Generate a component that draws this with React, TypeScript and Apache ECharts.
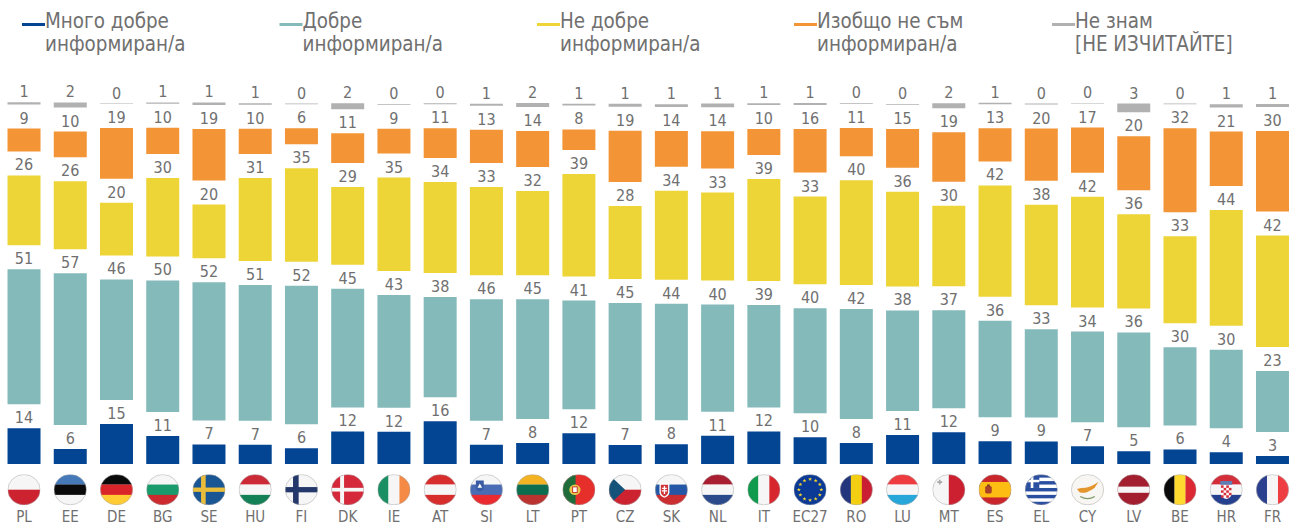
import React, { useEffect, useRef } from "react";
import * as echarts from "echarts";

const categories = ["PL","EE","DE","BG","SE","HU","FI","DK","IE","AT","SI","LT","PT","CZ","SK","NL","IT","EC27","RO","LU","MT","ES","EL","CY","LV","BE","HR","FR"];
const veryWell = [13.5,5.7,15.1,10.6,7.4,7.3,5.9,12.3,12.2,16.1,7.3,7.9,11.6,7.2,7.5,10.7,12.3,10.1,7.9,10.9,12,8.6,8.5,6.7,4.8,5.5,4.4,3];
const well = [50.9,57.2,45.5,49.6,52.1,51.2,52.3,44.8,42.5,37.9,45.8,45.2,41,44.5,43.9,40.4,38.6,39.6,41.5,38,37,36.4,33.3,34.2,35.8,29.5,29.7,23];
const notWell = [26.4,25.7,19.9,29.6,20.3,31.3,35.3,29.3,35.3,34.3,33.3,31.8,38.7,27.5,33.6,33.2,38.5,33.1,39.6,35.7,30.3,42,37.9,41.8,35.5,32.8,43.6,42.1];
const notAtAll = [8.6,9.7,19.1,9.9,19.4,9.5,6,11.2,9.3,11.2,12.6,13.6,7.8,19.4,13.5,14.1,9.8,16.4,10.6,14.6,18.7,12.5,19.7,17.1,20.4,31.7,20.6,30.4];
const dontKnow = [0.9,1.9,0.2,0.5,1,0.6,0.3,2.3,0.3,0.4,0.75,1.5,0.6,1.1,1,1.4,0.7,0.8,0.3,0.3,1.9,0.6,0.4,0.2,3.3,0.3,1.2,1.1];

const names = ["Много добре\nинформиран/а","Добре\nинформиран/а","Не добре\nинформиран/а","Изобщо не съм\nинформиран/а","Не знам\n[НЕ ИЗЧИТАЙТЕ]"];
const colors = ["#044593","#85BABB","#EDD437","#F39437","#B1B1B1"];
const legendLefts = [22,279.5,537,794,1052];

const PX_PER_UNIT = 2.65;
const GAP_UNITS = 24 / PX_PER_UNIT;
const TEXT = "#707070";
const FONT = "'DejaVu Sans Condensed','DejaVu Sans',sans-serif";

const W = "#F6F6F6";
const h = (...c: string[]) => c.map((col, i) => `<rect x="0" y="${(i * 100) / c.length}" width="100" height="${100 / c.length + 0.5}" fill="${col}"/>`).join("");
const v = (...c: string[]) => c.map((col, i) => `<rect y="0" x="${(i * 100) / c.length}" height="100" width="${100 / c.length + 0.5}" fill="${col}"/>`).join("");
const cross = (bg: string, fg: string, w: number) => `<rect width="100" height="100" fill="${bg}"/><rect x="${33 - w / 2}" width="${w}" height="100" fill="${fg}"/><rect y="${50 - w / 2}" width="100" height="${w}" fill="${fg}"/>`;
const star = (cx: number, cy: number, r: number) => {
  const pts: string[] = [];
  for (let i = 0; i < 10; i++) {
    const a = (Math.PI * i) / 5 - Math.PI / 2;
    const q = i % 2 ? r * 0.4 : r;
    pts.push(`${cx + q * Math.cos(a)},${cy + q * Math.sin(a)}`);
  }
  return `<polygon points="${pts.join(" ")}" fill="#F6D32D"/>`;
};
const euStars = Array.from({ length: 12 }, (_, i) => star(50 + 34 * Math.cos((i * Math.PI) / 6), 50 + 34 * Math.sin((i * Math.PI) / 6), 6.5)).join("");
const hrChecks = (() => {
  let s = `<path d="M34 36H66V62Q66 76 50 80Q34 76 34 62Z" fill="#fff"/>`;
  for (let r = 0; r < 5; r++) for (let c = 0; c < 4; c++) if ((r + c) % 2 === 0) s += `<rect x="${34 + c * 8}" y="${36 + r * 8}" width="8" height="8" fill="#D42E3A"/>`;
  return s;
})();
const flags: Record<string, string> = {
  PL: h(W, "#CD2230"),
  EE: h("#4579B8", "#0A0A0A", W),
  DE: h("#0A0A0A", "#D9252A", "#FFCC33"),
  BG: h(W, "#1A9B6C", "#CD2A30"),
  SE: cross("#1A5594", "#E9BD3A", 14),
  HU: h("#CD2A38", W, "#138055"),
  FI: cross(W, "#24386B", 17),
  DK: cross("#D5283A", W, 12),
  IE: v("#1A8F63", W, "#F48A45"),
  AT: h("#D82D2D", W, "#D82D2D"),
  SI: h(W, "#4A6CB4", "#EA2A2E") + `<path d="M18 20H42V42Q42 52 30 56Q18 52 18 42Z" fill="#3B5BA5"/><path d="M23 44L30 30L37 44Z" fill="#fff"/>`,
  LT: h("#F3B322", "#0C6D4F", "#BA3330"),
  PT: `<rect width="100" height="100" fill="#E62E2B"/><rect width="40" height="100" fill="#1F6B3A"/><circle cx="38" cy="50" r="17" fill="#E8C84A"/><rect x="31" y="41" width="14" height="18" fill="#fff" stroke="#C8352B" stroke-width="3"/>`,
  CZ: h(W, "#CD2230") + `<path d="M0 0L50 50L0 100Z" fill="#15527A"/>`,
  SK: h(W, "#2457A6", "#CC2D30") + `<path d="M14 30H44V58Q44 70 29 76Q14 70 14 58Z" fill="#fff"/><path d="M18 34H40V57Q40 67 29 72Q18 67 18 57Z" fill="#D0343A"/><path d="M27 38H31V44H36V48H31V52H37V56H31V64H27V56H21V52H27V48H22V44H27Z" fill="#fff"/>`,
  NL: h("#A91F31", W, "#2A4A8C"),
  IT: v("#109A4D", W, "#D8262F"),
  EC27: `<rect width="100" height="100" fill="#0A3A96"/>` + euStars,
  RO: v("#23357D", "#F4CE10", "#CA1F33"),
  LU: h("#EE3B3F", W, "#27A6D9"),
  MT: v(W, "#CC2030") + `<path d="M20 18H25V23H30V28H25V33H20V28H15V23H20Z" fill="#A9A9A9"/>`,
  ES: `<rect width="100" height="100" fill="#C8252C"/><rect y="25" width="100" height="50" fill="#FDBD13"/><rect x="20" y="38" width="20" height="24" rx="5" fill="#A8402A"/><rect x="26" y="33" width="8" height="6" fill="#7A3A1E"/>`,
  EL: (() => {
    let s = `<rect width="100" height="100" fill="#fff"/>`;
    for (let i = 0; i < 9; i += 2) s += `<rect y="${(i * 100) / 9}" width="100" height="${100 / 9}" fill="#2B4FA0"/>`;
    s += `<rect width="44" height="44.4" fill="#2B4FA0"/><rect x="18" width="8" height="44.4" fill="#fff"/><rect y="18" width="44" height="8" fill="#fff"/>`;
    return s;
  })(),
  CY: `<rect width="100" height="100" fill="#F8F6F2"/><path d="M18 48Q30 44 44 44Q62 40 84 24Q74 38 72 44Q60 54 48 58Q34 62 26 58Z" fill="#E4952C"/><path d="M28 72Q50 86 72 72" fill="none" stroke="#7E9A6A" stroke-width="4"/>`,
  LV: `<rect width="100" height="100" fill="#A31F30"/><rect y="40" width="100" height="20" fill="#F6F6F6"/>`,
  BE: v("#0A0A0A", "#FED92F", "#DC2832"),
  HR: h("#D42E3A", W, "#24408F") + `<rect x="32" y="22" width="36" height="12" fill="#5D7FB5"/>` + hrChecks,
  FR: v("#2A3F8E", W, "#EF3E42"),
};
const flagUri = (code: string) => {
  const id = "c" + code;
  const svg = `<svg xmlns="http://www.w3.org/2000/svg" width="33" height="31" viewBox="0 0 100 100" preserveAspectRatio="none"><defs><clipPath id="${id}"><circle cx="50" cy="50" r="49"/></clipPath></defs><g clip-path="url(#${id})">${flags[code]}</g><circle cx="50" cy="50" r="49" fill="none" stroke="#A8A8A8" stroke-width="1.6"/></svg>`;
  return "data:image/svg+xml;charset=utf-8," + encodeURIComponent(svg);
};

const values = [veryWell, well, notWell, notAtAll, dontKnow];

export default function App() {
  const ref = useRef<HTMLDivElement>(null);
  useEffect(() => {
    const chart = echarts.init(ref.current!, undefined, { renderer: "svg" });
    const spacer = categories.map(() => GAP_UNITS);
    const series: any[] = [];
    values.forEach((data, i) => {
      series.push({
        name: names[i],
        type: "bar",
        stack: "s",
        data,
        barWidth: 33,
        itemStyle: { color: colors[i] },
        label: {
          show: true,
          position: "top",
          distance: 2.5,
          color: TEXT,
          fontFamily: FONT,
          fontSize: 16,
          formatter: (p: any) => String(Math.round(p.value)),
        },
      });
      if (i < values.length - 1) {
        series.push({
          name: "gap" + i,
          type: "bar",
          stack: "s",
          data: spacer,
          barWidth: 33,
          silent: true,
          itemStyle: { color: "rgba(0,0,0,0)" },
        });
      }
    });
    series.push({
      name: "flags",
      type: "custom",
      silent: true,
      clip: false,
      data: categories.map((c, i) => [i, 0]),
      renderItem: (_: any, api: any) => {
        const idx = api.value(0);
        const p = api.coord([idx, 0]);
        return {
          type: "image",
          style: { image: flagUri(categories[idx]), x: p[0] - 16.5, y: p[1] + 10.2, width: 33, height: 31 },
        };
      },
    });
    chart.setOption({
      animation: false,
      backgroundColor: "#fff",
      grid: { left: 0.9, top: 100, width: 1294.7, height: 364, outerBoundsMode: "none" },
      xAxis: {
        type: "category",
        data: categories,
        axisLine: { show: false },
        axisTick: { show: false },
        axisLabel: { margin: 45.7, color: TEXT, fontFamily: FONT, fontSize: 15, interval: 0 },
      },
      yAxis: { type: "value", min: 0, max: 364 / PX_PER_UNIT, show: false },
      legend: names.map((n, i) => ({
        data: [n],
        left: legendLefts[i],
        top: 9.5,
        padding: 0,
        selectedMode: false,
        itemWidth: 23,
        itemHeight: 45,
        icon: "path://M0 0L0 0M0 13H23V16H0ZM23 45L23 45",
        textStyle: { color: TEXT, fontFamily: FONT, fontSize: 20.4, lineHeight: 23, padding: [0, 0, 0, -5] },
      })),
      series,
    });
    return () => chart.dispose();
  }, []);
  return <div ref={ref} style={{ position: "absolute", left: 0, top: 0, width: 1291, height: 526 }} />;
}
